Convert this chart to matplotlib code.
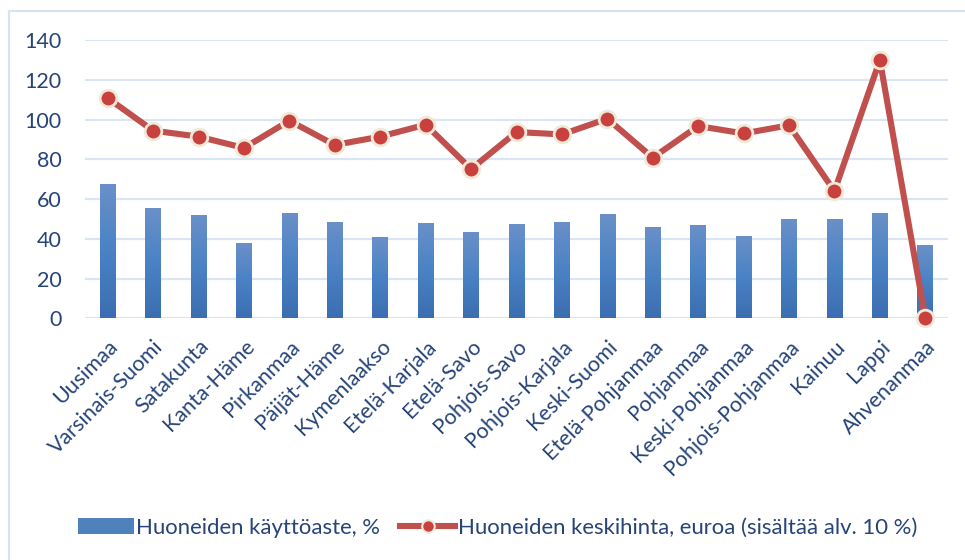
import numpy as np
import matplotlib.pyplot as plt
from matplotlib.lines import Line2D
from matplotlib.patches import Patch
from matplotlib.colors import LinearSegmentedColormap

plt.rcParams['font.family'] = ['Lato', 'DejaVu Sans']

# Data
regions = ['Uusimaa', 'Varsinais-Suomi', 'Satakunta', 'Kanta-Häme', 'Pirkanmaa',
           'Päijät-Häme', 'Kymenlaakso', 'Etelä-Karjala', 'Etelä-Savo',
           'Pohjois-Savo', 'Pohjois-Karjala', 'Keski-Suomi', 'Etelä-Pohjanmaa',
           'Pohjanmaa', 'Keski-Pohjanmaa', 'Pohjois-Pohjanmaa', 'Kainuu', 'Lappi',
           'Ahvenanmaa']
occupancy = [67.0, 55.0, 51.5, 37.4, 52.5, 48.0, 40.4, 47.4, 42.9,
             46.9, 47.9, 51.9, 45.4, 46.4, 40.9, 49.4, 49.4, 52.4, 36.4]
avg_price = [110.8, 94.4, 91.4, 85.7, 99.4, 87.2, 91.4, 97.4, 75.1,
             93.7, 92.5, 100.4, 80.8, 96.7, 93.0, 97.1, 64.0, 129.9, 0.0]
yticks = [0, 20, 40, 60, 80, 100, 120, 140]

label_bar = 'Huoneiden käyttöaste, %'
label_line = 'Huoneiden keskihinta, euroa (sisältää alv. 10 %)'

text_col = '#264478'
grid_col = '#d9e5f4'
red = '#c0504d'

fig = plt.figure(figsize=(9.65, 5.6), dpi=100)
ax = fig.add_axes([85 / 965, 1 - 318.3 / 560, 863 / 965, 278.3 / 560])

x = np.arange(len(regions))
bars = ax.bar(x, occupancy, width=0.345, color='none', zorder=2)

# vertical gradient fill for each bar
grad_cmap = LinearSegmentedColormap.from_list('bargrad', ['#3b6eb0', '#4a82c5', '#6a90c8'])
grad = np.linspace(0, 1, 256).reshape(-1, 1)
for b in bars:
    x0, y0 = b.get_x(), b.get_y()
    ax.imshow(grad, cmap=grad_cmap, origin='lower', aspect='auto',
              extent=(x0, x0 + b.get_width(), y0, y0 + b.get_height()), zorder=2)

ax.plot(x, avg_price, color=red, lw=4.4, marker='o', markersize=12,
        markerfacecolor='#c9413e', markeredgecolor='#efe9d8', markeredgewidth=2,
        zorder=3, clip_on=False, solid_joinstyle='round')

ax.set_xlim(-0.5, len(regions) - 0.5)
ax.set_ylim(0, 140)
ax.set_yticks(yticks)
ax.set_yticklabels([str(v) for v in yticks])
ax.yaxis.grid(True, color=grid_col, lw=1.6, zorder=0)
ax.set_axisbelow(True)
for s in ax.spines.values():
    s.set_visible(False)
ax.tick_params(axis='y', length=0, pad=17, labelsize=15.5, labelcolor=text_col)
ax.tick_params(axis='x', length=0, pad=13, labelsize=15.5, labelcolor=text_col)
ax.set_xticks(x)
ax.set_xticklabels(regions, rotation=45, ha='right', va='top', rotation_mode='anchor')

# legend
handles = [Patch(facecolor='#4f81bd', edgecolor='none'),
           Line2D([0], [0], color=red, lw=4.4, marker='o', markersize=9,
                  markerfacecolor='#c9413e', markeredgecolor='#efe9d8', markeredgewidth=1.5)]
fig.legend(handles, [label_bar, label_line], loc='center', bbox_to_anchor=(0.516, 0.058),
           ncol=2, frameon=False, fontsize=15.9, labelcolor=text_col,
           handlelength=2.5, handletextpad=0.12, columnspacing=0.9, handleheight=0.7)

# chart-area frame (left and top edges)
fig.add_artist(Line2D([9 / 965, 9 / 965], [0, 1 - 11 / 560], color='#d6e3f3', lw=1.5,
                      transform=fig.transFigure))
fig.add_artist(Line2D([9 / 965, 1], [1 - 11 / 560, 1 - 11 / 560], color='#d6e3f3', lw=1.5,
                      transform=fig.transFigure))

fig.savefig('out.png', dpi=100)
